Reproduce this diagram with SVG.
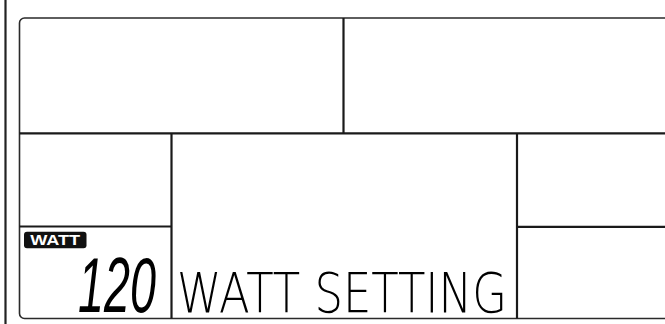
<svg xmlns="http://www.w3.org/2000/svg" width="665" height="324" viewBox="0 0 665 324">
<style>
.frame{fill:none;stroke:#2a2a2a;stroke-width:1.6}
.div{stroke:#1a1a1a;stroke-width:2.2;fill:none}
.seg{font-family:"Liberation Sans","DejaVu Sans",sans-serif;fill:#000}
</style>
<rect width="665" height="324" fill="#fff"/>
<line x1="5.5" y1="0" x2="5.5" y2="324" stroke="#222" stroke-width="2.2"/>
<g id="display">
<rect class="frame" x="19.5" y="18" width="680" height="300.5" rx="5"/>
</g>
<g id="connectors">
<line class="div" x1="19.5" y1="133.3" x2="665" y2="133.3"/>
<line class="div" x1="343.5" y1="18" x2="343.5" y2="133.3"/>
<line class="div" x1="171.5" y1="133.3" x2="171.5" y2="318.5"/>
<line class="div" x1="517" y1="133.3" x2="517" y2="318.5"/>
<line class="div" x1="19.5" y1="226.5" x2="171.5" y2="226.5"/>
<line class="div" x1="517" y1="226.8" x2="665" y2="226.8"/>
</g>
<g id="watt-label">
<rect x="24" y="231.7" width="62.5" height="16.6" rx="3" fill="#111"/>
<text x="55.2" y="245.3" text-anchor="middle" font-family="'Liberation Sans',Arial,sans-serif" font-weight="bold" font-size="14.5" fill="#fff" textLength="50" lengthAdjust="spacingAndGlyphs">WATT</text>
</g>
<g id="value">
<text class="seg" transform="translate(78,312) scale(0.6,1)" x="0" y="0" font-size="78" font-style="italic" textLength="130" lengthAdjust="spacingAndGlyphs">120</text>
</g>
<g id="message">
<text transform="translate(177,312) scale(0.795,1)" x="0" y="0" font-family="'DejaVu Sans','Liberation Sans',sans-serif" font-weight="200" font-size="55" fill="#000" textLength="415" lengthAdjust="spacingAndGlyphs">WATT SETTING</text>
</g>
</svg>
